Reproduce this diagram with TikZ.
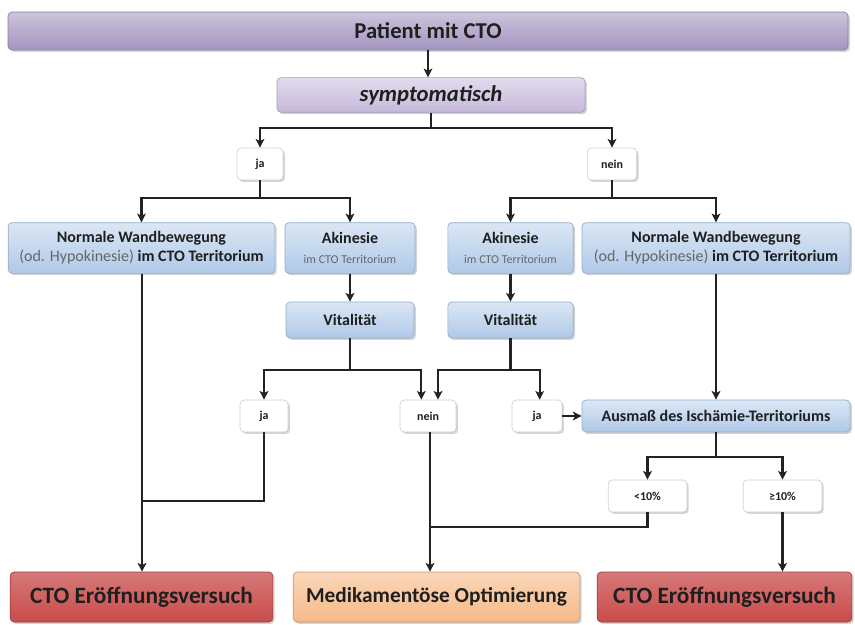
\documentclass[tikz,border=0pt]{standalone}
\usepackage{fontspec}
\setmainfont{Carlito}
\usetikzlibrary{arrows.meta,shadows}

\definecolor{lila}{HTML}{A394BF}
\definecolor{lilahell}{HTML}{C5B8DA}
\definecolor{blau}{HTML}{AFC9E8}
\definecolor{rot}{HTML}{C84C4B}
\definecolor{pfirsich}{HTML}{F6BA88}
\definecolor{linie}{HTML}{222222}

\tikzset{
  basebox/.style={rounded corners=3pt, align=center, inner sep=1pt, text=black!88,
    line width=0.5pt, drop shadow={opacity=0.35, shadow xshift=1.4pt, shadow yshift=-1.4pt}},
  titlebox/.style={basebox, draw=lila!85!black, top color=lila!55!white, bottom color=lila,
    font=\bfseries\fontsize{17}{20}\selectfont},
  subbox/.style={basebox, draw=lilahell!85!black, top color=lilahell!50!white, bottom color=lilahell,
    font=\bfseries\itshape\fontsize{17}{20}\selectfont},
  bluebox/.style={basebox, draw=blau!85!black, top color=blau!45!white, bottom color=blau,
    font=\bfseries\fontsize{12}{14.5}\selectfont},
  answer/.style={basebox, draw=black!18, fill=white, minimum height=24pt,
    font=\bfseries\fontsize{9}{11}\selectfont},
  endred/.style={basebox, draw=rot!80!black, top color=rot!75!white, bottom color=rot,
    minimum width=197pt, minimum height=37.5pt, font=\bfseries\fontsize{17.5}{20}\selectfont},
  endorange/.style={basebox, draw=pfirsich!80!black, top color=pfirsich!60!white, bottom color=pfirsich,
    minimum width=215pt, minimum height=37.5pt, font=\bfseries\fontsize{16}{20}\selectfont},
  ln/.style={line width=1.7pt, draw=linie},
  arr/.style={ln, -{Stealth[length=6.5pt,width=6.5pt,inset=1.5pt]}}
}

\newcommand{\grau}[1]{{\mdseries\color{black!60}#1}}

\begin{document}
\begin{tikzpicture}[x=0.75pt, y=-0.75pt]
  \useasboundingbox (0,0) rectangle (855,624);

  % Kopf
  \node[titlebox, minimum width=630pt, minimum height=28.5pt] (patient) at (428,31) {Patient mit CTO};
  \node[subbox, minimum width=231pt, minimum height=26pt] (sympt) at (431,95) {symptomatisch};

  % erste Verzweigung
  \node[answer, minimum width=34.5pt] (ja1) at (260,164) {ja};
  \node[answer, minimum width=37pt] (nein1) at (612,164) {nein};

  % Wandbewegung
  \node[bluebox, minimum width=200pt, minimum height=38pt] (normL) at (141.5,248)
    {Normale Wandbewegung\\\grau{(od. Hypokinesie)} im CTO Territorium};
  \node[bluebox, minimum width=97.5pt, minimum height=38pt] (akiL) at (350,248)
    {Akinesie\\{\fontsize{9}{11}\selectfont\grau{im CTO Territorium}}};
  \node[bluebox, minimum width=94pt, minimum height=38pt] (akiR) at (510.5,248)
    {Akinesie\\{\fontsize{9}{11}\selectfont\grau{im CTO Territorium}}};
  \node[bluebox, minimum width=201pt, minimum height=38pt] (normR) at (716,248)
    {Normale Wandbewegung\\\grau{(od. Hypokinesie)} im CTO Territorium};
  \node[bluebox, minimum width=96pt, minimum height=27pt] (vitL) at (350,320) {Vitalität};
  \node[bluebox, minimum width=94pt, minimum height=27pt] (vitR) at (510.5,320) {Vitalität};

  % zweite Verzweigung
  \node[answer, minimum width=36pt] (ja2) at (264,416) {ja};
  \node[answer, minimum width=42pt] (nein2) at (428,416) {nein};
  \node[answer, minimum width=37.5pt] (ja3) at (537,416) {ja};
  \node[bluebox, minimum width=201pt, minimum height=24pt] (ausmass) at (716,416)
    {Ausmaß des Ischämie-Territoriums};
  \node[answer, minimum width=59pt] (lt) at (647.5,496) {<10\%};
  \node[answer, minimum width=59pt] (ge) at (782.5,496) {≥10\%};

  % Ergebnis
  \node[endred] (ctoL) at (141.5,597) {CTO Eröffnungsversuch};
  \node[endorange] (medi) at (436.5,597) {Medikamentöse Optimierung};
  \node[endred, minimum width=191pt] (ctoR) at (724.5,597) {CTO Eröffnungsversuch};

  % Verbindungen
  \coordinate (s1) at (431,128);
  \coordinate (s2) at (260,198);
  \coordinate (s3) at (612,198);
  \coordinate (s4) at (350,370);
  \coordinate (s5) at (510.5,370);
  \coordinate (s6) at (716,457);
  \coordinate (m1) at (142,501);
  \coordinate (m2) at (430,527);

  \draw[arr] (patient.south -| 428,0) -- (sympt.north -| 428,0);
  \draw[ln] (sympt.south) -- (s1);
  \draw[arr] (s1) -| (ja1.north);
  \draw[arr] (s1) -| (nein1.north);
  \draw[ln] (ja1.south) -- (s2);
  \draw[arr] (s2) -| (normL.north);
  \draw[arr] (s2) -| (akiL.north);
  \draw[ln] (nein1.south) -- (s3);
  \draw[arr] (s3) -| (akiR.north);
  \draw[arr] (s3) -| (normR.north);
  \draw[arr] (akiL) -- (vitL);
  \draw[arr] (akiR) -- (vitR);
  \draw[ln] (vitL.south) -- (s4);
  \draw[arr] (s4) -| (ja2.north);
  \draw[arr] (s4) -| ([xshift=-5pt]nein2.north);
  \draw[ln] (vitR.south) -- (s5);
  \draw[arr] (s5) -| ([xshift=7.5pt]nein2.north);
  \draw[arr] (s5) -| ([xshift=2pt]ja3.north);
  \draw[arr] (ja3) -- (ausmass);
  \draw[arr] (normR) -- (ausmass);
  \draw[ln] (ausmass.south) -- (s6);
  \draw[arr] (s6) -| (lt.north);
  \draw[arr] (s6) -| (ge.north);
  \draw[arr] (normL.south -| m1) -- (ctoL.north -| m1);
  \draw[ln] (ja2.south) |- (m1);
  \draw[arr] (nein2.south -| m2) -- (medi.north -| m2);
  \draw[ln] (lt.south) |- (m2);
  \draw[arr] (ge.south) -- (ctoR.north -| ge.south);
\end{tikzpicture}
\end{document}
